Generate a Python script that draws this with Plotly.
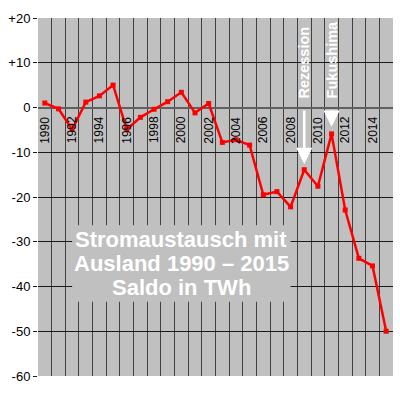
import plotly.graph_objects as go

years = list(range(1990, 2016))
saldo = [1.0, -0.3, -4.9, 1.2, 2.6, 5.0, -4.9, -2.2, -0.4, 1.3, 3.4, -1.2, 0.9,
         -7.8, -7.2, -8.4, -19.5, -18.8, -22.2, -13.9, -17.6, -5.9, -22.9,
         -33.7, -35.4, -50.0]
ytick_vals = [20, 10, 0, -10, -20, -30, -40, -50, -60]
ytick_text = ["+20", "+10", "0", "-10", "-20", "-30", "-40", "-50", "-60"]
xlabel_years = list(range(1990, 2016, 2))
title_lines = ["Stromaustausch mit", "Ausland 1990 – 2015", "Saldo in TWh"]
events = [("Rezession", 2009), ("Fukushima", 2011)]

FONT = "Liberation Sans, Arial, sans-serif"

fig = go.Figure()
fig.add_trace(go.Scatter(
    x=years, y=saldo, mode="lines+markers",
    line=dict(color="#FF0000", width=2.5),
    marker=dict(symbol="square", size=5, color="#FF0000"),
    hoverinfo="skip", showlegend=False,
))

annotations = []
for yr in xlabel_years:
    annotations.append(dict(
        x=yr, y=0, xref="x", yref="y", text=str(yr), showarrow=False,
        textangle=-90, xanchor="center", yanchor="top", yshift=-7,
        font=dict(family=FONT, size=12, color="#000000"),
    ))

# info box text
box_y = [-29.5, -34.9, -40.3]
for line, yy in zip(title_lines, box_y):
    annotations.append(dict(
        x=2000.0, y=yy, xref="x", yref="y", text=line, showarrow=False,
        xanchor="center", yanchor="middle",
        font=dict(family=FONT, size=22, color="#FFFFFF", weight="bold"),
    ))

# event labels and arrows
event_text_y = {"Rezession": 1.6, "Fukushima": 1.6}
arrow_tip = {"Rezession": -12.6, "Fukushima": -4.3}
arrow_len = {"Rezession": 55, "Fukushima": 18}
for name, yr in events:
    annotations.append(dict(
        x=yr, y=event_text_y[name], xref="x", yref="y", text=name, showarrow=False,
        textangle=-90, xanchor="center", yanchor="bottom",
        font=dict(family=FONT, size=14.5, color="#FFFFFF", weight="bold"),
    ))
    annotations.append(dict(
        x=yr, y=arrow_tip[name], xref="x", yref="y", text="", showarrow=True,
        ax=0, ay=-arrow_len[name], arrowcolor="#FFFFFF", arrowwidth=2.5,
        arrowhead=2, arrowsize=1.3, standoff=0,
    ))

fig.update_layout(
    width=400, height=393,
    margin=dict(l=38, r=7, t=18, b=17),
    paper_bgcolor="#FFFFFF", plot_bgcolor="#C0C0C0",
    font=dict(family=FONT, size=13, color="#000000"),
    annotations=annotations,
    shapes=[dict(
        type="rect", xref="x", yref="y", x0=1992.0, x1=2008.0, y0=-43.4, y1=-26.3,
        fillcolor="#C0C0C0", line=dict(width=0), layer="above",
    )],
)
fig.update_xaxes(
    range=[1989.5, 2015.5], tick0=1989.5, dtick=1, showticklabels=False,
    showgrid=True, gridcolor="#404040", gridwidth=1, zeroline=False,
    ticks="", showline=False, fixedrange=True,
)
fig.update_yaxes(
    range=[-60, 20], tickvals=ytick_vals, ticktext=ytick_text,
    showgrid=True, gridcolor="#1a1a1a", gridwidth=1,
    zeroline=True, zerolinecolor="#606060", zerolinewidth=2,
    ticks="outside", ticklen=4, tickcolor="#1a1a1a",
    tickfont=dict(family=FONT, size=13, color="#000000"),
    showline=False, fixedrange=True,
)

fig.write_html(
    "out.html",
    config={"displayModeBar": False},
    post_script="document.body.style.margin='0px';document.body.style.overflow='hidden';",
)
